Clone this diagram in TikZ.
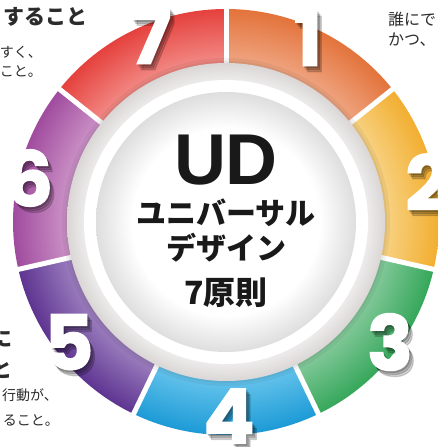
\documentclass[tikz,border=0pt]{standalone}
\usepackage{fontspec}
\newfontfamily\jp{Noto Sans CJK JP}
\newfontfamily\numf{Poppins}[BoldFeatures={FakeBold=1.6}]
\newfontfamily\lat{Liberation Sans}
\definecolor{c1d}{HTML}{E3733B}\definecolor{c1l}{HTML}{F0A784}
\definecolor{c2d}{HTML}{F2AE30}\definecolor{c2l}{HTML}{F8D385}
\definecolor{c3d}{HTML}{35A75A}\definecolor{c3l}{HTML}{86CA9C}
\definecolor{c4d}{HTML}{1C9AD6}\definecolor{c4l}{HTML}{66C4EC}
\definecolor{c5d}{HTML}{5E3491}\definecolor{c5l}{HTML}{9E82C0}
\definecolor{c6d}{HTML}{A04B9E}\definecolor{c6l}{HTML}{CD95C8}
\definecolor{c7d}{HTML}{E5413D}\definecolor{c7l}{HTML}{F38E89}
\definecolor{bandi}{HTML}{EDEBEB}\definecolor{bando}{HTML}{DAD6D6}
\definecolor{discg}{HTML}{DEDEDE}
\definecolor{txt}{HTML}{2B2B2B}
\pgfdeclareradialshading{shone}{\pgfpointorigin}{color(0bp)=(c1l); color(18.5bp)=(c1l); color(25bp)=(c1d); color(50bp)=(c1d)}
\pgfdeclareradialshading{shtwo}{\pgfpointorigin}{color(0bp)=(c2l); color(18.5bp)=(c2l); color(25bp)=(c2d); color(50bp)=(c2d)}
\pgfdeclareradialshading{shthree}{\pgfpointorigin}{color(0bp)=(c3l); color(18.5bp)=(c3l); color(25bp)=(c3d); color(50bp)=(c3d)}
\pgfdeclareradialshading{shfour}{\pgfpointorigin}{color(0bp)=(c4l); color(18.5bp)=(c4l); color(25bp)=(c4d); color(50bp)=(c4d)}
\pgfdeclareradialshading{shfive}{\pgfpointorigin}{color(0bp)=(c5l); color(18.5bp)=(c5l); color(25bp)=(c5d); color(50bp)=(c5d)}
\pgfdeclareradialshading{shsix}{\pgfpointorigin}{color(0bp)=(c6l); color(18.5bp)=(c6l); color(25bp)=(c6d); color(50bp)=(c6d)}
\pgfdeclareradialshading{shseven}{\pgfpointorigin}{color(0bp)=(c7l); color(18.5bp)=(c7l); color(25bp)=(c7d); color(50bp)=(c7d)}
\pgfdeclareradialshading{shband}{\pgfpointorigin}{color(0bp)=(bandi); color(22.3bp)=(bandi); color(25bp)=(bando); color(50bp)=(bando)}
\pgfdeclareradialshading{shdisc}{\pgfpointorigin}{color(0bp)=(white); color(18bp)=(white); color(25bp)=(discg); color(50bp)=(discg)}
\begin{document}
\begin{tikzpicture}[x=1pt,y=1pt,
  num/.style={font=\numf\bfseries\fontsize{76}{76}\selectfont, text=white, inner sep=0pt},
  numsh/.style={font=\numf\bfseries\fontsize{76}{76}\selectfont, text=black, opacity=0.16, inner sep=0pt},
  head/.style={font=\jp\bfseries\fontsize{21}{21}\selectfont, text=txt, inner sep=0pt},
  body/.style={font=\jp\fontsize{14}{14}\selectfont, text=txt, inner sep=0pt},
  centre/.style={font=\jp\bfseries\fontsize{30}{30}\selectfont, text=black!90, inner sep=0pt, anchor=base}]
\useasboundingbox (0,0) rectangle (437,447);
\fill[white] (0,0) rectangle (437,447);
\coordinate (C) at (226,225);
% ring segments
\foreach \k/\sh in {0/shone,1/shtwo,2/shthree,3/shfour,4/shfive,5/shsix,6/shseven}{
  \pgfmathsetmacro\a{90-\k*360/7}
  \pgfmathsetmacro\b{\a-360/7}
  \begin{scope}
    \clip[shift={(C)}] (\a:150) arc[start angle=\a, end angle=\b, radius=150] -- (\b:213) arc[start angle=\b, end angle=\a, radius=213] -- cycle;
    \shade[shading=\sh] (C) circle (213);
  \end{scope}
}
% white gaps
\foreach \k in {0,...,6}{
  \pgfmathsetmacro\a{90-\k*360/7}
  \draw[white, line width=5pt, shift={(C)}] (\a:150) -- (\a:220);
}
% soft shadow of the grey band on the ring
\fill[black, opacity=0.05] (C) circle (164);
\fill[black, opacity=0.05] (C) circle (161);
% grey band, white ring, inner disc
\shade[shading=shband] (C) circle (159);
\fill[white] (C) circle (142);
\shade[shading=shdisc] (C) circle (130);
% centre text
\node[font=\lat\bfseries\fontsize{72}{72}\selectfont, text=black!90, inner sep=0pt] (ud) at (226,287) {UD};
\node[centre] (l1) at (226,222.5) {ユニバーサル};
\node[centre] (l2) at (226,187.5) {デザイン};
\node[centre, font=\jp\bfseries\fontsize{32}{32}\selectfont] (l3) at (226,142) {7原則};
% numbers with soft shadows
\foreach \t/\x/\y in {1/308/409,2/427/265,3/390/105,4/229/31,5/69/105,6/29/269,7/151/411}{
  \node[numsh] (s\t a) at (\x+1.5,\y-2) {\t};
  \node[numsh] (s\t b) at (\x+3,\y-4) {\t};
  \node[numsh] (s\t c) at (\x+4.5,\y-6) {\t};
  \node[num] (n\t) at (\x,\y) {\t};
}
% side texts (cropped by the frame)
\node[head, anchor=base east] (h7) at (88,422) {すること};
\node[body, anchor=base east] (b7a) at (42,389.7) {すく、};
\node[body, anchor=base east] (b7b) at (42,370.7) {こと。};
\node[body, anchor=base west, font=\jp\fontsize{16}{16}\selectfont] (b1a) at (388,421) {誰にで};
\node[body, anchor=base west, font=\jp\fontsize{16}{16}\selectfont] (b1b) at (388,401) {かつ、};
\node[head, anchor=base east] (h5a) at (13,100) {に};
\node[head, anchor=base east] (h5b) at (13,69) {と};
\node[body, anchor=base east] (b5a) at (58,46.7) {行動が、};
\node[body, anchor=base east] (b5b) at (59,21.7) {ること。};
\end{tikzpicture}
\end{document}
